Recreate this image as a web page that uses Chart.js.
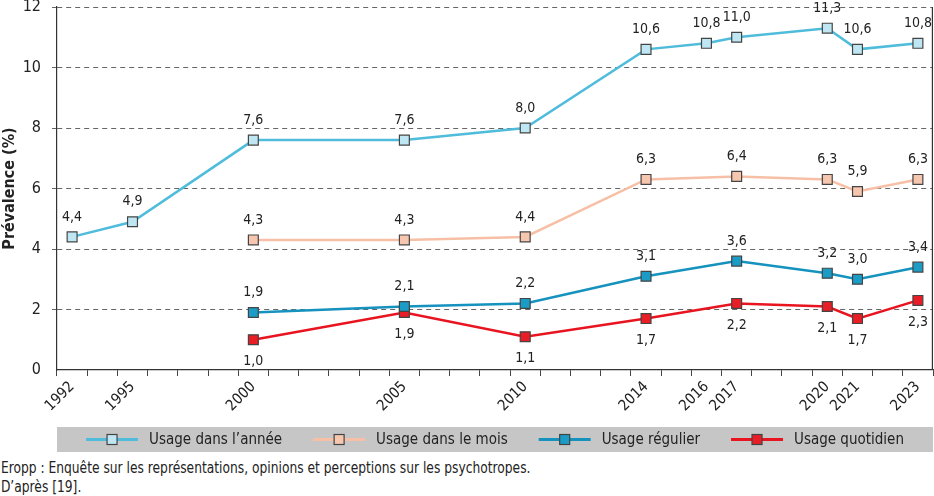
<!DOCTYPE html>
<html>
<head>
<meta charset="utf-8">
<script src="https://cdn.jsdelivr.net/npm/chart.js@4.4.0/dist/chart.umd.min.js"></script>
<style>
    html, body { margin: 0; background: #fff; overflow: hidden; font-family: "Liberation Sans Narrow", "DejaVu Sans Condensed", sans-serif; }
    #wrap { position: relative; width: 934px; height: 456px; }
    #note { font-size: 15px; line-height: 19px; color: #222; margin-top: 3px; padding-left: 1px;
            transform: scaleX(0.91); transform-origin: left top; white-space: nowrap; }
</style>
</head>
<body>
<div id="wrap"><canvas id="myChart"></canvas></div>
<div id="note">Eropp : Enquête sur les représentations, opinions et perceptions sur les psychotropes.<br>D’après [19].</div>
<script>
var FONT = '"Liberation Sans Narrow", "DejaVu Sans Condensed", sans-serif';

// survey years and values
var years = ['1992', '1995', '2000', '2005', '2010', '2014', '2016', '2017', '2020', '2021', '2023'];
var usageAnnee = [4.4, 4.9, 7.6, 7.6, 8.0, 10.6, 10.8, 11.0, 11.3, 10.6, 10.8];
var usageMois = [null, null, 4.3, 4.3, 4.4, 6.3, null, 6.4, 6.3, 5.9, 6.3];
var usageRegulier = [null, null, 1.9, 2.1, 2.2, 3.1, null, 3.6, 3.2, 3.0, 3.4];
var usageQuotidien = [null, null, 1.0, 1.9, 1.1, 1.7, null, 2.2, 2.1, 1.7, 2.3];

// x axis tick labels (one slot per tick, blanks between)
var axisLabels = ['1992', '', '1995', '', '', '', '2000', '', '', '', '', '2005', '', '', '', '2010',
    '', '', '', '2014', '', '2016', '2017', '', '', '2020', '2021', '', '2023'];

var yTicks = [0, 2, 4, 6, 8, 10, 12];

function onAxis(values) {
    return axisLabels.map(function (l) {
        var i = years.indexOf(l);
        return i < 0 ? null : values[i];
    });
}

function fmt(v) {
    return v.toFixed(1).replace('.', ',');
}

var series = [
    {label: 'Usage dans l’année', values: usageAnnee, line: '#4fbcdc', fill: '#bfe6f3', pos: 'above'},
    {label: 'Usage dans le mois', values: usageMois, line: '#f7c0a6', fill: '#f6c6ae', pos: 'above'},
    {label: 'Usage régulier', values: usageRegulier, line: '#1592bd', fill: '#1b9cc6', pos: 'above'},
    {label: 'Usage quotidien', values: usageQuotidien, line: '#e8141f', fill: '#e81d26', pos: 'below'}
];

var valueLabels = {
    id: 'valueLabels',
    afterDatasetsDraw: function (chart) {
        var ctx = chart.ctx;
        ctx.save();
        ctx.font = '14px ' + FONT;
        ctx.fillStyle = '#222';
        ctx.textAlign = 'center';
        ctx.textBaseline = 'middle';
        chart.data.datasets.forEach(function (ds, i) {
            var meta = chart.getDatasetMeta(i);
            meta.data.forEach(function (pt, j) {
                var v = ds.data[j];
                if (v === null) return;
                var dy = ds.labelPos === 'below' ? 22 : -20;
                ctx.fillText(fmt(v), pt.x, pt.y + dy);
            });
        });
        ctx.restore();
    }
};

var frameAndLegend = {
    id: 'frameAndLegend',
    afterDraw: function (chart) {
        var ctx = chart.ctx;
        var a = chart.chartArea;
        ctx.save();
        // right border
        ctx.strokeStyle = '#333';
        ctx.lineWidth = 1.2;
        ctx.beginPath();
        ctx.moveTo(a.right - 0.6, a.top);
        ctx.lineTo(a.right - 0.6, a.bottom);
        ctx.stroke();

        // legend box
        var top = a.bottom + 57, h = 25;
        ctx.fillStyle = '#c6c6c6';
        ctx.fillRect(a.left, top, a.right - a.left, h);
        ctx.font = '15px ' + FONT;
        var gap = 31, lineW = 52, textGap = 11;
        var widths = series.map(function (s) { return lineW + textGap + ctx.measureText(s.label).width; });
        var total = widths.reduce(function (p, c) { return p + c; }, 0) + gap * (series.length - 1);
        var x = (a.left + a.right) / 2 - total / 2;
        var cy = top + h / 2;
        series.forEach(function (s, i) {
            ctx.strokeStyle = s.line;
            ctx.lineWidth = 3;
            ctx.beginPath();
            ctx.moveTo(x, cy);
            ctx.lineTo(x + lineW, cy);
            ctx.stroke();
            ctx.fillStyle = s.fill;
            ctx.fillRect(x + lineW / 2 - 5, cy - 5, 10, 10);
            ctx.strokeStyle = '#444';
            ctx.lineWidth = 1.2;
            ctx.strokeRect(x + lineW / 2 - 5, cy - 5, 10, 10);
            ctx.fillStyle = '#222';
            ctx.textBaseline = 'middle';
            ctx.fillText(s.label, x + lineW + textGap, cy + 1);
            x += widths[i] + gap;
        });
        ctx.restore();
    }
};

var ctx = document.getElementById('myChart');
var myChart = new Chart(ctx, {
    type: 'line',
    data: {
        labels: axisLabels,
        datasets: series.map(function (s) {
            return {
                label: s.label,
                data: onAxis(s.values),
                borderColor: s.line,
                backgroundColor: s.fill,
                borderWidth: 2.5,
                pointStyle: 'rect',
                pointRadius: 7,
                pointHoverRadius: 7,
                pointBackgroundColor: s.fill,
                pointBorderColor: '#444',
                pointBorderWidth: 1.2,
                spanGaps: true,
                tension: 0,
                labelPos: s.pos
            };
        })
    },
    options: {
        responsive: true,
        maintainAspectRatio: false,
        animation: false,
        layout: {autoPadding: false, padding: {top: 0, right: 1, bottom: 0, left: 0}},
        plugins: {
            legend: {display: false},
            tooltip: {enabled: false}
        },
        scales: {
            x: {
                type: 'category',
                offset: true,
                afterFit: function (s) {
                    s.height = 86;
                    s.paddingLeft = 0;
                    s.paddingRight = 0;
                },
                grid: {
                    offset: true,
                    drawOnChartArea: false,
                    drawTicks: true,
                    tickLength: 6,
                    color: '#444'
                },
                border: {display: true, color: '#333', width: 1.2},
                ticks: {
                    autoSkip: false,
                    minRotation: 45,
                    maxRotation: 45,
                    padding: 2,
                    color: '#222',
                    font: {family: FONT, size: 15}
                }
            },
            y: {
                min: 0,
                max: 12,
                afterFit: function (s) {
                    s.width = 57;
                    s.paddingTop = 7;
                    s.paddingBottom = 0;
                },
                afterBuildTicks: function (s) {
                    s.ticks = yTicks.map(function (v) { return {value: v}; });
                },
                grid: {
                    color: function (c) { return c.tick && c.tick.value === 0 ? 'rgba(0,0,0,0)' : '#666'; },
                    lineWidth: 1,
                    tickLength: 5
                },
                border: {display: true, color: '#333', width: 1.2, dash: [5, 4]},
                ticks: {
                    padding: 11,
                    color: '#222',
                    font: {family: FONT, size: 16}
                },
                title: {
                    display: true,
                    text: 'Prévalence (%)',
                    color: '#222',
                    padding: {top: 0, bottom: 0},
                    font: {family: FONT, size: 16, weight: 'bold'}
                }
            }
        }
    },
    plugins: [valueLabels, frameAndLegend]
});
</script>
</body>
</html>
